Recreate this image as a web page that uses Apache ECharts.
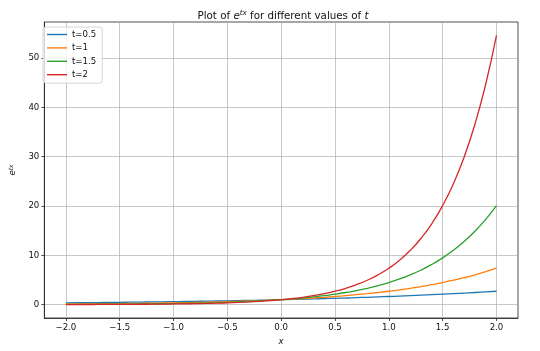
<!DOCTYPE html>
<html>
<head>
<meta charset="utf-8">
<script src="https://cdn.jsdelivr.net/npm/echarts@6/dist/echarts.min.js"></script>
<style>html,body{margin:0;padding:0;background:#fff;}#c{width:540px;height:351px;}</style>
</head>
<body>
<div id="c"></div>
<script>
// x sample points
var xs = [-2.0,-1.9,-1.8,-1.7,-1.6,-1.5,-1.4,-1.3,-1.2,-1.1,-1.0,-0.9,-0.8,-0.7,-0.6,-0.5,-0.4,-0.3,-0.2,-0.1,0.0,
          0.1,0.2,0.3,0.4,0.5,0.6,0.7,0.8,0.9,1.0,1.1,1.2,1.3,1.4,1.5,1.6,1.7,1.8,1.9,2.0];
var seriesNames = ['t=0.5','t=1','t=1.5','t=2'];
var yT05 = [0.368,0.387,0.407,0.427,0.449,0.472,0.497,0.522,0.549,0.577,0.607,0.638,0.670,0.705,0.741,0.779,0.819,0.861,0.905,0.951,1.000,
            1.051,1.105,1.162,1.221,1.284,1.350,1.419,1.492,1.568,1.649,1.733,1.822,1.916,2.014,2.117,2.226,2.340,2.460,2.586,2.718];
var yT1 = [0.135,0.150,0.165,0.183,0.202,0.223,0.247,0.273,0.301,0.333,0.368,0.407,0.449,0.497,0.549,0.607,0.670,0.741,0.819,0.905,1.000,
           1.105,1.221,1.350,1.492,1.649,1.822,2.014,2.226,2.460,2.718,3.004,3.320,3.669,4.055,4.482,4.953,5.474,6.050,6.686,7.389];
var yT15 = [0.0498,0.0578,0.0672,0.0781,0.0907,0.1054,0.1225,0.1423,0.1653,0.1920,0.2231,0.2592,0.3012,0.3499,0.4066,0.4724,0.5488,0.6376,0.7408,0.8607,1.000,
            1.162,1.350,1.568,1.822,2.117,2.460,2.858,3.320,3.857,4.482,5.207,6.050,7.029,8.166,9.488,11.023,12.807,14.880,17.288,20.086];
var yT2 = [0.0183,0.0224,0.0273,0.0334,0.0408,0.0498,0.0608,0.0743,0.0907,0.1108,0.1353,0.1653,0.2019,0.2466,0.3012,0.3679,0.4493,0.5488,0.6703,0.8187,1.000,
           1.221,1.492,1.822,2.226,2.718,3.320,4.055,4.953,6.050,7.389,9.025,11.023,13.464,16.445,20.086,24.533,29.964,36.598,44.701,54.598];
var xTicks = [-2.0,-1.5,-1.0,-0.5,0.0,0.5,1.0,1.5,2.0];
var yTicks = [0,10,20,30,40,50];
var colors = ['#1f77b4','#ff7f0e','#2ca02c','#d62728'];

var allY = [yT05, yT1, yT15, yT2];
function pairs(ys){ return xs.map(function(x,i){ return [x, ys[i]]; }); }
var FONT = 'DejaVu Sans';
var chart = echarts.init(document.getElementById('c'), null, {renderer:'canvas'});
chart.setOption({
  animation: false,
  backgroundColor: '#fff',
  color: colors,
  title: {
    text: 'Plot of {i|e}{sup|tx} for different values of {i|t}',
    left: 278, top: 5, textAlign: 'center',
    textStyle: {
      fontFamily: FONT, fontSize: 10.3, fontWeight: 'normal', color: '#111',
      rich: {
        i: {fontFamily: FONT, fontSize: 10.3, fontStyle: 'italic', color: '#111'},
        sup: {fontFamily: FONT, fontSize: 7.2, fontStyle: 'italic', color: '#111', verticalAlign: 'top', padding:[0,0,5,0]}
      }
    }
  },
  legend: {
    orient: 'vertical', left: 43, top: 27,
    data: seriesNames,
    icon: 'rect', itemWidth: 20, itemHeight: 1.4, itemGap: 0.4,
    padding: [1, 6, 2, 4],
    backgroundColor: 'rgba(255,255,255,0.8)',
    borderColor: '#cccccc', borderWidth: 0.8, borderRadius: 3,
    textStyle: {fontFamily: FONT, fontSize: 8.6, color: '#111', lineHeight: 13}
  },
  grid: {left: 38, right: 22, top: 22, bottom: 33, show: true, borderColor: '#222', borderWidth: 0.8, backgroundColor: 'transparent'},
  xAxis: {
    type: 'value', min: -2.2, max: 2.2,
    name: 'x', nameLocation: 'middle', nameGap: 17,
    nameTextStyle: {fontFamily: FONT, fontSize: 8.6, fontStyle: 'italic', color: '#111'},
    axisLine: {show: true, onZero: false, lineStyle: {color: '#222', width: 0.8}},
    axisTick: {show: true, length: 3, lineStyle: {color: '#222', width: 0.8}, customValues: xTicks},
    axisLabel: {show: true, margin: 5, customValues: xTicks, fontFamily: FONT, fontSize: 8.6, color: '#111',
      formatter: function(v){ return v.toFixed(1).replace('-', '\u2212'); }},
    splitLine: {show: true, lineStyle: {color: '#b0b0b0', width: 0.7}}
  },
  yAxis: {
    type: 'value', min: -2.71, max: 57.33,
    name: '{i|e}{sup|tx}', nameLocation: 'middle', nameGap: 22, nameRotate: 90,
    nameTextStyle: {fontFamily: FONT, fontSize: 8.6, color: '#111',
      rich: {
        i: {fontFamily: FONT, fontSize: 8.6, fontStyle: 'italic', color: '#111'},
        sup: {fontFamily: FONT, fontSize: 6, fontStyle: 'italic', color: '#111', verticalAlign: 'top', padding:[0,0,4,0]}
      }},
    axisLine: {show: true, onZero: false, lineStyle: {color: '#222', width: 0.8}},
    axisTick: {show: true, length: 3, lineStyle: {color: '#222', width: 0.8}, customValues: yTicks},
    axisLabel: {show: true, margin: 5, customValues: yTicks, fontFamily: FONT, fontSize: 8.6, color: '#111',
      formatter: function(v){ return String(Math.round(v)); }},
    splitLine: {show: true, lineStyle: {color: '#b0b0b0', width: 0.7}}
  },
  series: seriesNames.map(function(n, k){
    return {
      name: n, type: 'line', data: pairs(allY[k]), showSymbol: false, symbol: 'none',
      smooth: 0.5, lineStyle: {width: 1.3, color: colors[k]}, itemStyle: {color: colors[k]}, z: 2 + k
    };
  })
});
</script>
</body>
</html>
